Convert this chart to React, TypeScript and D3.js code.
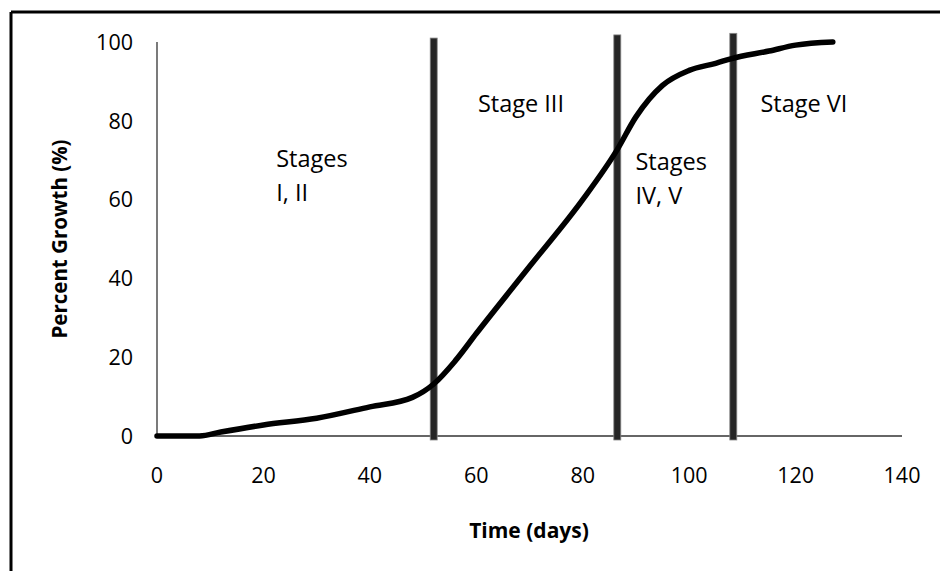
import * as d3 from 'd3'

const days = [0, 8, 12, 20, 30, 40, 48, 52, 56, 60, 70, 80, 86.4, 90, 95, 100, 105, 108, 115, 120, 127]
const growth = [0, 0, 1, 2.8, 4.5, 7.4, 9.8, 13.2, 19, 26, 43, 60, 72.5, 81, 89, 92.8, 94.6, 95.8, 97.7, 99.2, 100]

const xTicks = [0, 20, 40, 60, 80, 100, 120, 140]
const yTicks = [0, 20, 40, 60, 80, 100]

// stage boundaries (days) and how far above 100% each bar reaches
const dividers = [52, 86.5, 108.3]
const dividerTops = [101, 101.8, 102.2]

const stageLabels = [
  { lines: ['Stages', 'I, II'], x: 22.4, y: 68.3 },
  { lines: ['Stage III'], x: 60.3, y: 82.3 },
  { lines: ['Stages', 'IV, V'], x: 89.9, y: 67.5 },
  { lines: ['Stage VI'], x: 113.4, y: 82.3 },
]

const W = 940
const H = 571
const FONT = '"Open Sans", Lato, sans-serif'

export default function App() {
  const x = d3.scaleLinear().domain([0, 140]).range([157, 902])
  const y = d3.scaleLinear().domain([0, 100]).range([436, 42])

  const pts = days.map((d, i) => [d, growth[i]] as [number, number])
  const line = d3
    .line<[number, number]>()
    .x((d) => x(d[0]))
    .y((d) => y(d[1]))
    .curve(d3.curveMonotoneX)

  return (
    <svg
      width={W}
      height={H}
      style={{ position: 'absolute', left: 0, top: 0, background: '#fff' }}
      fontFamily={FONT}
    >
      {/* outer frame, only top and left visible */}
      <line x1={11} y1={12} x2={W} y2={12} stroke="#000" strokeWidth={3} />
      <line x1={11} y1={12} x2={11} y2={H} stroke="#000" strokeWidth={3} />

      {/* axes */}
      <line x1={x(0)} y1={y(0)} x2={x(0)} y2={y(100)} stroke="#333" strokeWidth={1.3} />
      <line x1={x(0)} y1={y(0)} x2={x(140)} y2={y(0)} stroke="#333" strokeWidth={1.3} />

      {yTicks.map((t) => (
        <text key={t} x={x(0) - 24} y={y(t)} dy="0.36em" textAnchor="end" fontSize={21.5} fill="#000">
          {t}
        </text>
      ))}
      {xTicks.map((t) => (
        <text key={t} x={x(t)} y={y(0) + 39} dy="0.36em" textAnchor="middle" fontSize={21.5} fill="#000">
          {t}
        </text>
      ))}

      <text
        transform={`translate(60,${y(50)}) rotate(-90)`}
        textAnchor="middle"
        dy="0.36em"
        fontSize={20.5}
        fontWeight="bold"
        fill="#000"
      >
        Percent Growth (%)
      </text>
      <text x={529} y={530} textAnchor="middle" dy="0.36em" fontSize={21} fontWeight="bold" fill="#000">
        Time (days)
      </text>

      {/* stage dividers */}
      {dividers.map((d, i) => (
        <rect
          key={d}
          x={x(d) - 3.5}
          y={y(dividerTops[i])}
          width={7}
          height={y(0) + 4 - y(dividerTops[i])}
          fill="#262626"
          stroke="#888"
          strokeWidth={0.8}
        />
      ))}

      <path d={line(pts) ?? ''} fill="none" stroke="#000" strokeWidth={5.5} strokeLinecap="round" />

      {stageLabels.map((s) => (
        <text key={s.lines.join()} x={x(s.x)} y={y(s.y)} fontSize={23.5} fill="#000">
          {s.lines.map((l, i) => (
            <tspan key={l} x={x(s.x)} dy={i === 0 ? 0 : 34}>
              {l}
            </tspan>
          ))}
        </text>
      ))}
    </svg>
  )
}
